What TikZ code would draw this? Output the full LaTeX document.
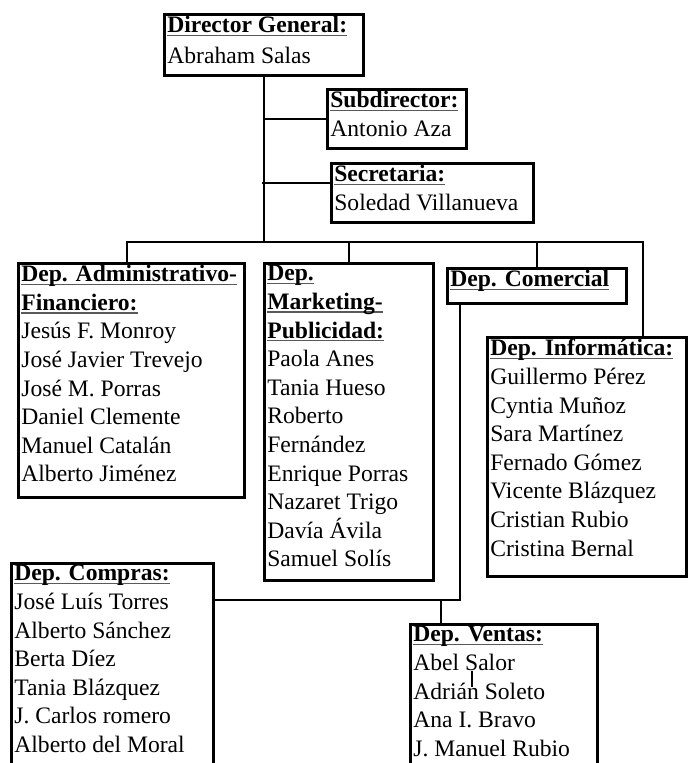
\documentclass[tikz,border=0pt]{standalone}
\usepackage{fontspec}
\setmainfont{Liberation Serif}
\usetikzlibrary{positioning}

\newcommand{\depthead}[1]{\leavevmode\setbox0\hbox{\textbf{#1}}\rlap{\color{black!65}\rule[-3.2bp]{\wd0}{1.3bp}}\box0}
\newcommand{\orgcell}[3]{\parbox[c][#2][t]{#1}{\raggedright #3}}

\begin{document}
\begin{tikzpicture}[x=1bp, y=-1bp,
    orgbox/.style={draw, line width=2.7bp, anchor=north west, inner xsep=3bp, inner ysep=2bp,
      font=\fontsize{23.6bp}{28.6bp}\selectfont},
    link/.style={line width=2.3bp}]
    \useasboundingbox (0,0) rectangle (690,763);
    \clip (0,0) rectangle (690,763);

    % top
    \node[orgbox] (dir) at (163,13) {\orgcell{193bp}{57bp}{\depthead{Director General:}\\[2.4bp]Abraham Salas}};
    \node[orgbox] (sub) at (326,88) {\orgcell{133bp}{55bp}{\depthead{Subdirector:}\\Antonio Aza}};
    \node[orgbox] (sec) at (330,162) {\orgcell{196bp}{55bp}{\depthead{Secretaria:}\\Soledad Villanueva}};

    % departments
    \node[orgbox] (adm) at (17,262) {\orgcell{220bp}{230bp}{\depthead{Dep. Administrativo-}\\\depthead{Financiero:}\\
      Jesús F. Monroy\\José Javier Trevejo\\José M. Porras\\Daniel Clemente\\Manuel Catalán\\Alberto Jiménez}};
    \node[orgbox] (mkt) at (263,262) {\orgcell{163bp}{313bp}{\depthead{Dep.}\\\depthead{Marketing-}\\\depthead{Publicidad:}\\
      Paola Anes\\Tania Hueso\\Roberto\\Fernández\\Enrique Porras\\Nazaret Trigo\\Davía Ávila\\Samuel Solís}};
    \node[orgbox] (com) at (446,267) {\orgcell{173bp}{31bp}{\depthead{Dep. Comercial}}};
    \node[orgbox] (inf) at (486,336) {\orgcell{193bp}{235bp}{\depthead{Dep. Informática:}\\
      Guillermo Pérez\\Cyntia Muñoz\\Sara Martínez\\Fernado Gómez\\Vicente Blázquez\\Cristian Rubio\\Cristina Bernal}};

    % under Dep. Comercial
    \node[orgbox] (comp) at (10,562) {\orgcell{196bp}{260bp}{\depthead{Dep. Compras:}\\
      José Luís Torres\\Alberto Sánchez\\Berta Díez\\Tania Blázquez\\J. Carlos romero\\Alberto del Moral}};
    \node[orgbox] (ven) at (409,623) {\orgcell{181bp}{200bp}{\depthead{Dep. Ventas:}\\
      Abel Salor\\Adrián Soleto\\Ana I. Bravo\\J. Manuel Rubio}};

    % links
    \coordinate (busL) at (127,242);
    \coordinate (busR) at (643,242);
    \coordinate (secjoin) at (262,183);
    \coordinate (comdown) at (460,600);
    \coordinate (venjoin) at (441,600);
    \draw[link] (dir.south) -- (dir.south |- busL);
    \draw[link] (dir.south |- sub.west) -- (sub.west);
    \draw[link] (secjoin) -- (secjoin -| sec.west);
    \draw[link] (busL |- adm.north) -- (busL) -- (busR) -- (busR |- inf.north);
    \draw[link] (mkt.north) -- (mkt.north |- busL);
    \draw[link] (com.north) -- (com.north |- busL);
    \draw[link] (comdown |- com.south) -- (comdown) -- (comdown -| comp.east);
    \draw[link] (venjoin) -- (venjoin |- ven.north);
    \draw[line width=1.6bp] (472,671) -- (472,687);
\end{tikzpicture}
\end{document}
